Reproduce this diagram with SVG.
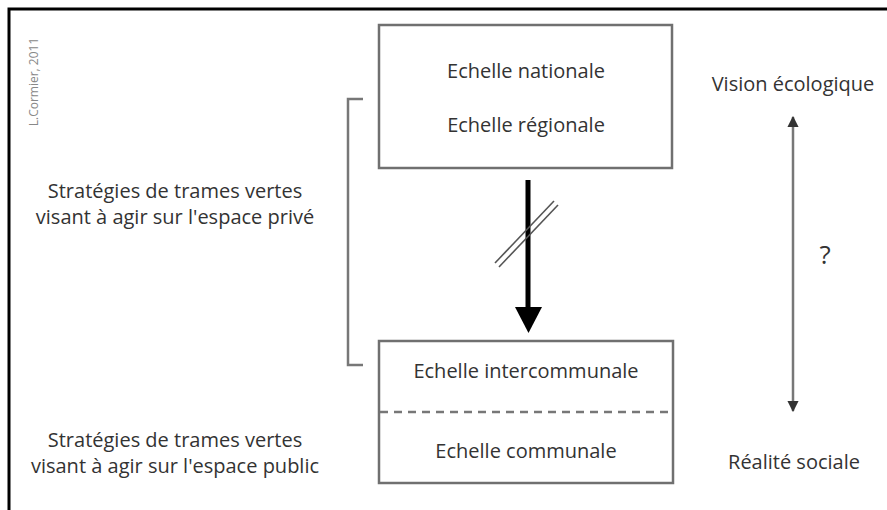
<svg xmlns="http://www.w3.org/2000/svg" width="887" height="510" viewBox="0 0 887 510">
<style>
text{font-family:"Open Sans","Noto Sans","Liberation Sans",sans-serif;fill:#333;font-size:20px;text-anchor:middle}
.box{fill:none;stroke:#707070;stroke-width:2.5}
.thin{stroke:#777;stroke-width:2.5;fill:none}
</style>
<defs>
<marker id="ah" viewBox="0 0 10 10" refX="9" refY="5" markerWidth="4.5" markerHeight="4.5" orient="auto-start-reverse" markerUnits="strokeWidth">
<path d="M0,0 L10,5 L0,10 z" fill="#333"/>
</marker>
</defs>
<rect width="887" height="510" fill="#fff"/>
<path d="M9,510 V9 H887" fill="none" stroke="#000" stroke-width="3"/>
<text x="38" y="82" transform="rotate(-90 38 82)" style="font-size:12px;fill:#888">L.Cormier, 2011</text>
<g id="top-box">
<rect class="box" x="379" y="25" width="293" height="143"/>
<text x="526" y="78">Echelle nationale</text>
<text x="526" y="132">Echelle régionale</text>
</g>
<g id="bottom-box">
<rect class="box" x="379" y="341" width="294" height="142"/>
<line x1="380" y1="412" x2="672" y2="412" stroke="#777" stroke-width="2.5" stroke-dasharray="8,6"/>
<text x="526" y="378">Echelle intercommunale</text>
<text x="526" y="458">Echelle communale</text>
</g>
<g id="left-labels">
<text x="175" y="198">Stratégies de trames vertes</text>
<text x="175" y="224">visant à agir sur l'espace privé</text>
<text x="175" y="447">Stratégies de trames vertes</text>
<text x="175" y="473">visant à agir sur l'espace public</text>
</g>
<g id="right-labels">
<text x="793" y="91">Vision écologique</text>
<text x="825" y="264" style="font-size:26px">?</text>
<text x="794" y="469">Réalité sociale</text>
</g>
<g id="connectors">
<path class="thin" d="M363,99 H348 V365 H363"/>
<line x1="528" y1="180" x2="528" y2="310" stroke="#000" stroke-width="5"/>
<path d="M515,307 L542,307 L528.5,333 z" fill="#000"/>
<line x1="495" y1="263" x2="554" y2="201" stroke="#555" stroke-width="1.6"/>
<line x1="499" y1="267" x2="558" y2="205" stroke="#555" stroke-width="1.6"/>
<line x1="793" y1="117" x2="793" y2="411" stroke="#777" stroke-width="2.5" marker-start="url(#ah)" marker-end="url(#ah)"/>
</g>
</svg>
